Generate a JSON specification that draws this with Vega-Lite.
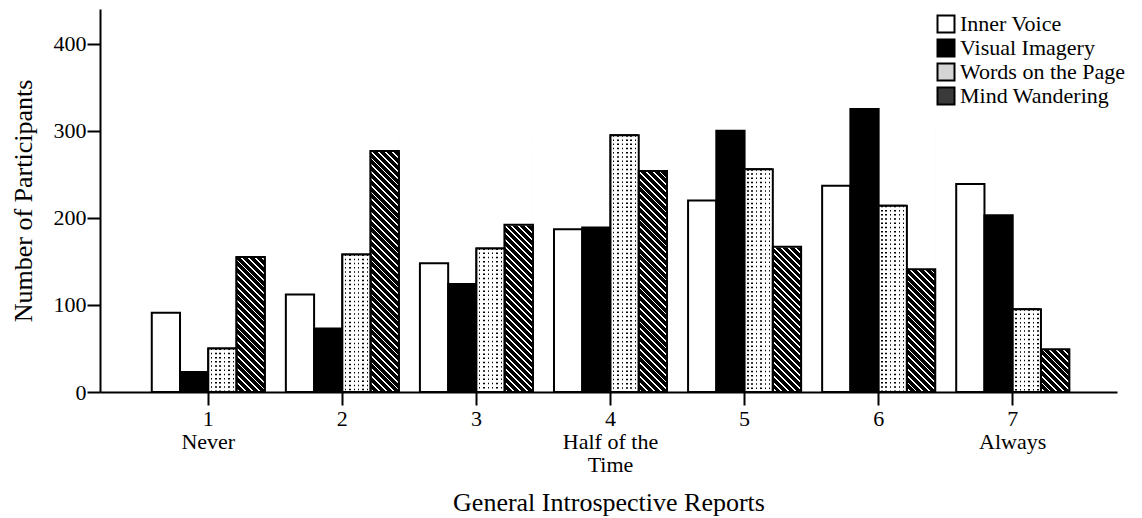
{
 "$schema": "https://vega.github.io/schema/vega-lite/v6.json",
 "width": 1017,
 "height": 383,
 "autosize": {"type": "none"},
 "padding": {"left": 100, "top": 9, "right": 25, "bottom": 126},
 "background": "white",
 "config": {
  "view": {"stroke": null},
  "font": "Liberation Serif",
  "axis": {"domainColor": "#000", "domainWidth": 2, "tickColor": "#000", "tickWidth": 2, "tickSize": 13, "labelColor": "#000", "labelFont": "Liberation Serif", "labelFontSize": 22, "titleFont": "Liberation Serif", "titleFontSize": 26, "titleFontWeight": "normal", "titleColor": "#000", "grid": false},
  "axisX": {"labelAngle": 0, "labelPadding": 3, "labelLineHeight": 23, "titlePadding": 14},
  "axisY": {"labelPadding": 1, "titlePadding": 17}
 },
 "data": {"values": [
  {"level": 1, "series": "Inner Voice", "value": 91},
  {"level": 2, "series": "Inner Voice", "value": 112},
  {"level": 3, "series": "Inner Voice", "value": 148},
  {"level": 4, "series": "Inner Voice", "value": 187},
  {"level": 5, "series": "Inner Voice", "value": 220},
  {"level": 6, "series": "Inner Voice", "value": 237},
  {"level": 7, "series": "Inner Voice", "value": 239},
  {"level": 1, "series": "Visual Imagery", "value": 23},
  {"level": 2, "series": "Visual Imagery", "value": 73},
  {"level": 3, "series": "Visual Imagery", "value": 124},
  {"level": 4, "series": "Visual Imagery", "value": 189},
  {"level": 5, "series": "Visual Imagery", "value": 300},
  {"level": 6, "series": "Visual Imagery", "value": 325},
  {"level": 7, "series": "Visual Imagery", "value": 203},
  {"level": 1, "series": "Words on the Page", "value": 50},
  {"level": 2, "series": "Words on the Page", "value": 158},
  {"level": 3, "series": "Words on the Page", "value": 165},
  {"level": 4, "series": "Words on the Page", "value": 295},
  {"level": 5, "series": "Words on the Page", "value": 256},
  {"level": 6, "series": "Words on the Page", "value": 214},
  {"level": 7, "series": "Words on the Page", "value": 95},
  {"level": 1, "series": "Mind Wandering", "value": 155},
  {"level": 2, "series": "Mind Wandering", "value": 277},
  {"level": 3, "series": "Mind Wandering", "value": 192},
  {"level": 4, "series": "Mind Wandering", "value": 254},
  {"level": 5, "series": "Mind Wandering", "value": 167},
  {"level": 6, "series": "Mind Wandering", "value": 141},
  {"level": 7, "series": "Mind Wandering", "value": 49}
 ]},
 "encoding": {
  "x": {"field": "level", "type": "ordinal", "scale": {"paddingInner": 0.1572, "paddingOuter": 0.3713, "align": 0.52}, "axis": {"title": "General Introspective Reports", "labelExpr": "datum.value == 1 ? ['1','Never'] : datum.value == 4 ? ['4','Half of the','Time'] : datum.value == 7 ? ['7','Always'] : datum.label"}},
  "xOffset": {"field": "series", "type": "nominal", "scale": {"domain": ["Inner Voice", "Visual Imagery", "Words on the Page", "Mind Wandering"]}},
  "y": {"field": "value", "type": "quantitative", "scale": {"domain": [0, 440]}, "axis": {"title": "Number of Participants", "values": [0, 100, 200, 300, 400]}}
 },
 "layer": [
  {
   "mark": {"type": "bar", "stroke": "#000", "strokeWidth": 2},
   "encoding": {
    "fill": {"field": "series", "type": "nominal",
     "scale": {"domain": ["Inner Voice", "Visual Imagery", "Words on the Page", "Mind Wandering"],
      "range": ["#ffffff", "#000000", "#d4d4d4", "#3a3a3a"]},
     "legend": {"title": null, "orient": "none", "legendX": 835, "legendY": 4, "symbolType": "square", "symbolSize": 289, "symbolStrokeColor": "#000", "symbolStrokeWidth": 2, "symbolOpacity": 1, "labelFont": "Liberation Serif", "labelFontSize": 22, "labelColor": "#000", "labelLimit": 400, "rowPadding": -2, "labelOffset": 3, "padding": 0,
      "encode": {"symbols": {"update": {
       "stroke": {"value": "#000"},
       "strokeWidth": {"value": 2},
       "fill": {"signal": "datum.value == 'Mind Wandering' ? {gradient: 'linear', x1: 0, y1: 1, x2: 1, y2: 0, stops: [{offset: 0, color: '#000'}, {offset: 0.17, color: '#000'}, {offset: 0.17, color: '#fff'}, {offset: 0.23, color: '#fff'}, {offset: 0.23, color: '#000'}, {offset: 0.37, color: '#000'}, {offset: 0.37, color: '#fff'}, {offset: 0.43, color: '#fff'}, {offset: 0.43, color: '#000'}, {offset: 0.57, color: '#000'}, {offset: 0.57, color: '#fff'}, {offset: 0.63, color: '#fff'}, {offset: 0.63, color: '#000'}, {offset: 0.77, color: '#000'}, {offset: 0.77, color: '#fff'}, {offset: 0.83, color: '#fff'}, {offset: 0.83, color: '#000'}, {offset: 1, color: '#000'}]} : scale('fill', datum.value)"}
      }}}
     }
    }
   }
  },
  {
   "transform": [{"filter": "datum.series == 'Words on the Page'"}],
   "mark": {"type": "bar", "fill": "#fff"}
  },
  {
   "transform": [{"filter": "datum.series == 'Words on the Page'"}],
   "mark": {"type": "rule", "color": "#000", "strokeWidth": 26, "strokeDash": [1.5, 2.7]},
   "encoding": {"y2": {"datum": 0}}
  },
  {
   "transform": [{"filter": "datum.series == 'Words on the Page'"}],
   "mark": {"type": "bar", "fill": {"gradient": "linear", "x1": 0, "y1": 0, "x2": 1, "y2": 0, "stops": [
    {"offset": 0, "color": "#fff"},
    {"offset": 0.0862, "color": "#fff"}, {"offset": 0.0862, "color": "rgba(255,255,255,0)"}, {"offset": 0.1394, "color": "rgba(255,255,255,0)"}, {"offset": 0.1394, "color": "#fff"},
    {"offset": 0.2411, "color": "#fff"}, {"offset": 0.2411, "color": "rgba(255,255,255,0)"}, {"offset": 0.2943, "color": "rgba(255,255,255,0)"}, {"offset": 0.2943, "color": "#fff"},
    {"offset": 0.396, "color": "#fff"}, {"offset": 0.396, "color": "rgba(255,255,255,0)"}, {"offset": 0.4492, "color": "rgba(255,255,255,0)"}, {"offset": 0.4492, "color": "#fff"},
    {"offset": 0.5509, "color": "#fff"}, {"offset": 0.5509, "color": "rgba(255,255,255,0)"}, {"offset": 0.6041, "color": "rgba(255,255,255,0)"}, {"offset": 0.6041, "color": "#fff"},
    {"offset": 0.7058, "color": "#fff"}, {"offset": 0.7058, "color": "rgba(255,255,255,0)"}, {"offset": 0.759, "color": "rgba(255,255,255,0)"}, {"offset": 0.759, "color": "#fff"},
    {"offset": 0.8607, "color": "#fff"}, {"offset": 0.8607, "color": "rgba(255,255,255,0)"}, {"offset": 0.9139, "color": "rgba(255,255,255,0)"}, {"offset": 0.9139, "color": "#fff"},
    {"offset": 1, "color": "#fff"}
   ]}}
  },
  {
   "transform": [{"filter": "datum.series == 'Mind Wandering'"}],
   "mark": {"type": "bar", "fill": {"gradient": "linear", "x1": 0, "y1": 1, "x2": 0.1185, "y2": -0.0953, "stops": [
    {"offset": 0, "color": "#000"},
    {"offset": 0.008, "color": "#000"}, {"offset": 0.008, "color": "#fff"}, {"offset": 0.0145, "color": "#fff"}, {"offset": 0.0145, "color": "#000"},
    {"offset": 0.0315, "color": "#000"}, {"offset": 0.0315, "color": "#fff"}, {"offset": 0.038, "color": "#fff"}, {"offset": 0.038, "color": "#000"},
    {"offset": 0.055, "color": "#000"}, {"offset": 0.055, "color": "#fff"}, {"offset": 0.0615, "color": "#fff"}, {"offset": 0.0615, "color": "#000"},
    {"offset": 0.0785, "color": "#000"}, {"offset": 0.0785, "color": "#fff"}, {"offset": 0.085, "color": "#fff"}, {"offset": 0.085, "color": "#000"},
    {"offset": 0.102, "color": "#000"}, {"offset": 0.102, "color": "#fff"}, {"offset": 0.1085, "color": "#fff"}, {"offset": 0.1085, "color": "#000"},
    {"offset": 0.1255, "color": "#000"}, {"offset": 0.1255, "color": "#fff"}, {"offset": 0.132, "color": "#fff"}, {"offset": 0.132, "color": "#000"},
    {"offset": 0.149, "color": "#000"}, {"offset": 0.149, "color": "#fff"}, {"offset": 0.1555, "color": "#fff"}, {"offset": 0.1555, "color": "#000"},
    {"offset": 0.1725, "color": "#000"}, {"offset": 0.1725, "color": "#fff"}, {"offset": 0.179, "color": "#fff"}, {"offset": 0.179, "color": "#000"},
    {"offset": 0.196, "color": "#000"}, {"offset": 0.196, "color": "#fff"}, {"offset": 0.2025, "color": "#fff"}, {"offset": 0.2025, "color": "#000"},
    {"offset": 0.2195, "color": "#000"}, {"offset": 0.2195, "color": "#fff"}, {"offset": 0.226, "color": "#fff"}, {"offset": 0.226, "color": "#000"},
    {"offset": 0.243, "color": "#000"}, {"offset": 0.243, "color": "#fff"}, {"offset": 0.2495, "color": "#fff"}, {"offset": 0.2495, "color": "#000"},
    {"offset": 0.2665, "color": "#000"}, {"offset": 0.2665, "color": "#fff"}, {"offset": 0.273, "color": "#fff"}, {"offset": 0.273, "color": "#000"},
    {"offset": 0.29, "color": "#000"}, {"offset": 0.29, "color": "#fff"}, {"offset": 0.2965, "color": "#fff"}, {"offset": 0.2965, "color": "#000"},
    {"offset": 0.3135, "color": "#000"}, {"offset": 0.3135, "color": "#fff"}, {"offset": 0.32, "color": "#fff"}, {"offset": 0.32, "color": "#000"},
    {"offset": 0.337, "color": "#000"}, {"offset": 0.337, "color": "#fff"}, {"offset": 0.3435, "color": "#fff"}, {"offset": 0.3435, "color": "#000"},
    {"offset": 0.3605, "color": "#000"}, {"offset": 0.3605, "color": "#fff"}, {"offset": 0.367, "color": "#fff"}, {"offset": 0.367, "color": "#000"},
    {"offset": 0.384, "color": "#000"}, {"offset": 0.384, "color": "#fff"}, {"offset": 0.3905, "color": "#fff"}, {"offset": 0.3905, "color": "#000"},
    {"offset": 0.4075, "color": "#000"}, {"offset": 0.4075, "color": "#fff"}, {"offset": 0.414, "color": "#fff"}, {"offset": 0.414, "color": "#000"},
    {"offset": 0.431, "color": "#000"}, {"offset": 0.431, "color": "#fff"}, {"offset": 0.4375, "color": "#fff"}, {"offset": 0.4375, "color": "#000"},
    {"offset": 0.4545, "color": "#000"}, {"offset": 0.4545, "color": "#fff"}, {"offset": 0.461, "color": "#fff"}, {"offset": 0.461, "color": "#000"},
    {"offset": 0.478, "color": "#000"}, {"offset": 0.478, "color": "#fff"}, {"offset": 0.4845, "color": "#fff"}, {"offset": 0.4845, "color": "#000"},
    {"offset": 0.5015, "color": "#000"}, {"offset": 0.5015, "color": "#fff"}, {"offset": 0.508, "color": "#fff"}, {"offset": 0.508, "color": "#000"},
    {"offset": 0.525, "color": "#000"}, {"offset": 0.525, "color": "#fff"}, {"offset": 0.5315, "color": "#fff"}, {"offset": 0.5315, "color": "#000"},
    {"offset": 0.5485, "color": "#000"}, {"offset": 0.5485, "color": "#fff"}, {"offset": 0.555, "color": "#fff"}, {"offset": 0.555, "color": "#000"},
    {"offset": 0.572, "color": "#000"}, {"offset": 0.572, "color": "#fff"}, {"offset": 0.5785, "color": "#fff"}, {"offset": 0.5785, "color": "#000"},
    {"offset": 0.5955, "color": "#000"}, {"offset": 0.5955, "color": "#fff"}, {"offset": 0.602, "color": "#fff"}, {"offset": 0.602, "color": "#000"},
    {"offset": 0.619, "color": "#000"}, {"offset": 0.619, "color": "#fff"}, {"offset": 0.6255, "color": "#fff"}, {"offset": 0.6255, "color": "#000"},
    {"offset": 0.6425, "color": "#000"}, {"offset": 0.6425, "color": "#fff"}, {"offset": 0.649, "color": "#fff"}, {"offset": 0.649, "color": "#000"},
    {"offset": 0.666, "color": "#000"}, {"offset": 0.666, "color": "#fff"}, {"offset": 0.6725, "color": "#fff"}, {"offset": 0.6725, "color": "#000"},
    {"offset": 0.6895, "color": "#000"}, {"offset": 0.6895, "color": "#fff"}, {"offset": 0.696, "color": "#fff"}, {"offset": 0.696, "color": "#000"},
    {"offset": 0.713, "color": "#000"}, {"offset": 0.713, "color": "#fff"}, {"offset": 0.7195, "color": "#fff"}, {"offset": 0.7195, "color": "#000"},
    {"offset": 0.7365, "color": "#000"}, {"offset": 0.7365, "color": "#fff"}, {"offset": 0.743, "color": "#fff"}, {"offset": 0.743, "color": "#000"},
    {"offset": 0.76, "color": "#000"}, {"offset": 0.76, "color": "#fff"}, {"offset": 0.7665, "color": "#fff"}, {"offset": 0.7665, "color": "#000"},
    {"offset": 0.7835, "color": "#000"}, {"offset": 0.7835, "color": "#fff"}, {"offset": 0.79, "color": "#fff"}, {"offset": 0.79, "color": "#000"},
    {"offset": 0.807, "color": "#000"}, {"offset": 0.807, "color": "#fff"}, {"offset": 0.8135, "color": "#fff"}, {"offset": 0.8135, "color": "#000"},
    {"offset": 0.8305, "color": "#000"}, {"offset": 0.8305, "color": "#fff"}, {"offset": 0.837, "color": "#fff"}, {"offset": 0.837, "color": "#000"},
    {"offset": 0.854, "color": "#000"}, {"offset": 0.854, "color": "#fff"}, {"offset": 0.8605, "color": "#fff"}, {"offset": 0.8605, "color": "#000"},
    {"offset": 0.8775, "color": "#000"}, {"offset": 0.8775, "color": "#fff"}, {"offset": 0.884, "color": "#fff"}, {"offset": 0.884, "color": "#000"},
    {"offset": 0.901, "color": "#000"}, {"offset": 0.901, "color": "#fff"}, {"offset": 0.9075, "color": "#fff"}, {"offset": 0.9075, "color": "#000"},
    {"offset": 0.9245, "color": "#000"}, {"offset": 0.9245, "color": "#fff"}, {"offset": 0.931, "color": "#fff"}, {"offset": 0.931, "color": "#000"},
    {"offset": 0.948, "color": "#000"}, {"offset": 0.948, "color": "#fff"}, {"offset": 0.9545, "color": "#fff"}, {"offset": 0.9545, "color": "#000"},
    {"offset": 0.9715, "color": "#000"}, {"offset": 0.9715, "color": "#fff"}, {"offset": 0.978, "color": "#fff"}, {"offset": 0.978, "color": "#000"},
    {"offset": 1, "color": "#000"}
   ]}},
   "encoding": {"y": {"datum": 300, "type": "quantitative", "title": "Number of Participants"}, "y2": {"datum": 0}}
  },
  {
   "transform": [{"filter": "datum.series == 'Mind Wandering'"}],
   "mark": {"type": "bar", "fill": "#fff", "stroke": "#fff", "strokeWidth": 1.5},
   "encoding": {"y2": {"datum": 300}}
  },
  {
   "transform": [{"filter": "datum.series == 'Words on the Page' || datum.series == 'Mind Wandering'"}],
   "mark": {"type": "bar", "fill": "transparent", "stroke": "#000", "strokeWidth": 2}
  }
 ]
}
